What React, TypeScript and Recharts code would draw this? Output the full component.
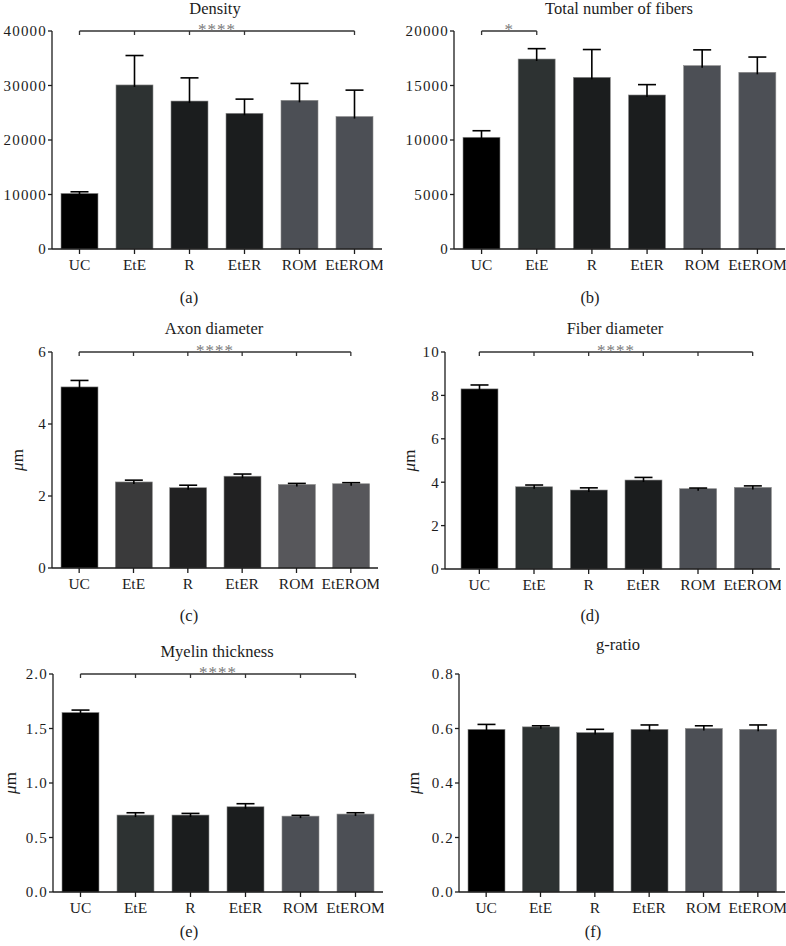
import React from "react";
import {
  BarChart,
  Bar,
  Cell,
  XAxis,
  YAxis,
  ReferenceLine,
  Label,
} from "recharts";

const groups = ["UC", "EtE", "R", "EtER", "ROM", "EtEROM"];

const densityMean = [10200, 30100, 27150, 24900, 27280, 24300];
const densityErr = [300, 5400, 4250, 2600, 3100, 4850];

const fibersMean = [10250, 17430, 15750, 14130, 16820, 16210];
const fibersErr = [600, 950, 2550, 950, 1450, 1400];

const axonMean = [5.03, 2.39, 2.23, 2.55, 2.32, 2.34];
const axonErr = [0.18, 0.05, 0.07, 0.06, 0.03, 0.03];

const fiberDiamMean = [8.3, 3.79, 3.64, 4.1, 3.7, 3.76];
const fiberDiamErr = [0.18, 0.08, 0.1, 0.12, 0.03, 0.07];

const myelinMean = [1.647, 0.706, 0.706, 0.782, 0.696, 0.715];
const myelinErr = [0.022, 0.021, 0.015, 0.028, 0.007, 0.012];

const gRatioMean = [0.597, 0.606, 0.585, 0.597, 0.6, 0.597];
const gRatioErr = [0.018, 0.004, 0.012, 0.016, 0.01, 0.016];

const densityTicks = [0, 10000, 20000, 30000, 40000];
const fibersTicks = [0, 5000, 10000, 15000, 20000];
const axonTicks = [0, 2, 4, 6];
const fiberDiamTicks = [0, 2, 4, 6, 8, 10];
const myelinTicks = [0, 0.5, 1, 1.5, 2];
const gRatioTicks = [0, 0.2, 0.4, 0.6, 0.8];

const paletteDark = ["#000000", "#2d3232", "#1b1d1e", "#1b1d1e", "#4c4f55", "#4c4f55"];
const paletteGray = ["#000000", "#3a3a3b", "#212122", "#212122", "#57575b", "#57575b"];

const FONT = '"Liberation Serif", "DejaVu Serif", serif';
const INK = "#1c1c1c";

const makeData = (means: number[], errs: number[]) =>
  groups.map((g, i) => ({ group: g, mean: means[i], err: errs[i] }));

// bar rectangle plus an upper-only error whisker, scaled from the bar's own height
const BarWithError = (props: any) => {
  const { x, y, width, height, fill, payload } = props;
  if (!payload || !height) return null;
  const perUnit = height / payload.mean;
  const top = y - payload.err * perUnit;
  const cx = x + width / 2;
  return (
    <g>
      <rect x={x} y={y} width={width} height={height} fill={fill} stroke="#8c8c8c" strokeWidth={0.6} />
      <line x1={cx} y1={y + 2} x2={cx} y2={top} stroke="#000" strokeWidth={1.6} />
      <line x1={cx - 9} y1={top} x2={cx + 9} y2={top} stroke="#000" strokeWidth={1.6} />
    </g>
  );
};

type Panel = {
  title: string;
  tag: string;
  data: { group: string; mean: number; err: number }[];
  ticks: number[];
  decimals: number;
  colors: string[];
  plot: { left: number; right: number; top: number; bottom: number };
  titlePos: [number, number];
  tagPos: [number, number];
  unitGap?: number;
  padLeft?: number;
  bracket?: { from: string; to: string; drops: string[]; stars: string };
};

const panels: Panel[] = [
  {
    title: "Density",
    tag: "(a)",
    data: makeData(densityMean, densityErr),
    ticks: densityTicks,
    decimals: 0,
    colors: paletteDark,
    plot: { left: 52, right: 382, top: 31, bottom: 249 },
    titlePos: [215, 9],
    tagPos: [189, 298],
    bracket: { from: "UC", to: "EtEROM", drops: ["UC", "EtE", "R", "EtER", "EtEROM"], stars: "****" },
  },
  {
    title: "Total number of fibers",
    tag: "(b)",
    data: makeData(fibersMean, fibersErr),
    ticks: fibersTicks,
    decimals: 0,
    colors: paletteDark,
    plot: { left: 454, right: 785, top: 31, bottom: 249 },
    titlePos: [619, 9],
    tagPos: [590, 298],
    bracket: { from: "UC", to: "EtE", drops: ["UC", "EtE"], stars: "*" },
  },
  {
    title: "Axon diameter",
    tag: "(c)",
    data: makeData(axonMean, axonErr),
    ticks: axonTicks,
    decimals: 0,
    colors: paletteGray,
    plot: { left: 52, right: 378, top: 352, bottom: 568 },
    titlePos: [214, 329],
    tagPos: [189, 616],
    unitGap: 35,
    bracket: { from: "UC", to: "EtEROM", drops: groups, stars: "****" },
  },
  {
    title: "Fiber diameter",
    tag: "(d)",
    data: makeData(fiberDiamMean, fiberDiamErr),
    ticks: fiberDiamTicks,
    decimals: 0,
    colors: paletteDark,
    plot: { left: 445, right: 780, top: 352, bottom: 569 },
    titlePos: [615, 329],
    tagPos: [590, 616],
    unitGap: 36,
    padLeft: 7,
    bracket: { from: "UC", to: "EtEROM", drops: groups, stars: "****" },
  },
  {
    title: "Myelin thickness",
    tag: "(e)",
    data: makeData(myelinMean, myelinErr),
    ticks: myelinTicks,
    decimals: 1,
    colors: paletteDark,
    plot: { left: 53, right: 383, top: 674, bottom: 892 },
    titlePos: [217, 652],
    tagPos: [189, 932],
    unitGap: 43,
    bracket: { from: "UC", to: "EtEROM", drops: groups, stars: "****" },
  },
  {
    title: "g-ratio",
    tag: "(f)",
    data: makeData(gRatioMean, gRatioErr),
    ticks: gRatioTicks,
    decimals: 1,
    colors: paletteDark,
    plot: { left: 459, right: 785, top: 674, bottom: 892 },
    titlePos: [618, 645],
    tagPos: [593, 932],
    unitGap: 46,
  },
];

const AXIS_W = 62;
const TOP_PAD = 14;
const X_AXIS_H = 40;

function PanelChart({ p }: { p: Panel }) {
  const plotW = p.plot.right - p.plot.left;
  const plotH = p.plot.bottom - p.plot.top;
  const max = p.ticks[p.ticks.length - 1];
  const drop = (max * 4) / plotH;
  const tickStyle = { fontFamily: FONT, fontSize: 15, fill: INK, letterSpacing: 1.2 };

  return (
    <div
      style={{
        position: "absolute",
        left: p.plot.left - AXIS_W,
        top: p.plot.top - TOP_PAD,
        fontFamily: FONT,
      }}
    >
      <BarChart
        width={plotW + AXIS_W + 1}
        height={plotH + TOP_PAD + X_AXIS_H}
        data={p.data}
        margin={{ top: TOP_PAD, right: 1, left: 0, bottom: 0 }}
        barSize={37}
        style={{ fontFamily: FONT }}
      >
        <XAxis
          dataKey="group"
          interval={0}
          height={X_AXIS_H}
          tick={{ fontFamily: FONT, fontSize: 15.5, fill: INK }}
          tickSize={5}
          tickMargin={5}
          padding={{ left: p.padLeft || 0, right: 0 }}
          axisLine={{ stroke: INK, strokeWidth: 1.3 }}
          tickLine={{ stroke: INK, strokeWidth: 1.3 }}
        />
        <YAxis
          width={AXIS_W}
          domain={[0, max]}
          ticks={p.ticks}
          interval={0}
          tickFormatter={(v: number) => v.toFixed(p.decimals)}
          tick={tickStyle}
          tickSize={4}
          tickMargin={1}
          axisLine={{ stroke: INK, strokeWidth: 1.3 }}
          tickLine={{ stroke: INK, strokeWidth: 1.3 }}
        >
          {p.unitGap ? (
            <Label
              content={(lp: any) => {
                const vb = lp.viewBox;
                const cx = vb.x + vb.width - p.unitGap!;
                const cy = vb.y + vb.height / 2;
                return (
                  <text
                    x={cx}
                    y={cy}
                    textAnchor="middle"
                    dominantBaseline="central"
                    transform={`rotate(-90, ${cx}, ${cy})`}
                    fontFamily={FONT}
                    fontSize={17}
                    fill={INK}
                  >
                    <tspan fontStyle="italic">μ</tspan>m
                  </text>
                );
              }}
            />
          ) : null}
        </YAxis>
        <Bar dataKey="mean" isAnimationActive={false} shape={<BarWithError />}>
          {p.data.map((d, i) => (
            <Cell key={d.group} fill={p.colors[i]} />
          ))}
        </Bar>
        {p.bracket ? (
          <ReferenceLine
            segment={[
              { x: p.bracket.from, y: max },
              { x: p.bracket.to, y: max },
            ]}
            stroke="#333"
            strokeWidth={1.3}
            ifOverflow="visible"
            label={{
              value: p.bracket.stars,
              position: "top",
              offset: -4,
              fill: "#7a7a7a",
              fontSize: 17,
              fontFamily: FONT,
              letterSpacing: 1,
            }}
          />
        ) : null}
        {p.bracket
          ? p.bracket.drops.map((g) => (
              <ReferenceLine
                key={g}
                segment={[
                  { x: g, y: max },
                  { x: g, y: max - drop },
                ]}
                stroke="#333"
                strokeWidth={1.3}
                ifOverflow="visible"
              />
            ))
          : null}
      </BarChart>
    </div>
  );
}

const textBox = (x: number, y: number): React.CSSProperties => ({
  position: "absolute",
  left: x,
  top: y,
  transform: "translate(-50%, -50%)",
  whiteSpace: "nowrap",
  fontFamily: FONT,
  fontSize: 16.5,
  color: INK,
  lineHeight: "18px",
});

export default function App() {
  return (
    <div
      style={{
        position: "absolute",
        left: 0,
        top: 0,
        width: 786,
        height: 946,
        overflow: "hidden",
        background: "#fff",
        fontFamily: FONT,
      }}
    >
      <style>{`.recharts-text, .recharts-cartesian-axis-tick-value { font-family: ${FONT}; }`}</style>
      {panels.map((p) => (
        <React.Fragment key={p.tag}>
          <PanelChart p={p} />
          <div style={textBox(p.titlePos[0], p.titlePos[1])}>{p.title}</div>
          <div style={textBox(p.tagPos[0], p.tagPos[1])}>{p.tag}</div>
        </React.Fragment>
      ))}
    </div>
  );
}
